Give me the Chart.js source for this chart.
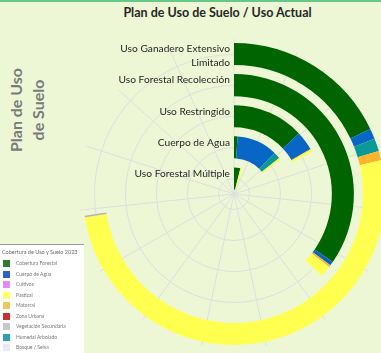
<!DOCTYPE html>
<html><head><meta charset="utf-8">
<script src="https://cdn.jsdelivr.net/npm/chart.js@4.4.1/dist/chart.umd.min.js"></script>
<style>
html,body{margin:0;padding:0;width:381px;height:353px;overflow:hidden;background:#edf7d6;font-family:Lato,"Open Sans",sans-serif;}
#topbar{position:absolute;left:0;top:0;width:381px;height:2px;background:#66c98a;}
#title{position:absolute;left:0;top:5px;width:435px;text-align:center;font-weight:bold;font-size:12.5px;color:#262626;white-space:nowrap;}
#ytitle{position:absolute;left:-28px;top:88px;width:110px;height:44px;line-height:22px;text-align:center;font-weight:bold;font-size:16px;color:#7a7a7a;transform:rotate(-90deg);white-space:nowrap;}
canvas{position:absolute;left:64px;top:24px;}
#legend{position:absolute;left:0;top:244px;width:84px;height:109px;background:#fff;border-top:1px solid #9a9a9a;filter:blur(0.5px);}
#legend .t{position:absolute;left:2px;top:4px;font-size:5.5px;color:#666;white-space:nowrap;}
#legend .it{position:absolute;left:3px;height:8px;font-size:5px;color:#777;white-space:nowrap;line-height:7px;}
#legend .sw{display:inline-block;width:7px;height:7px;vertical-align:top;margin-right:6px;}
</style></head>
<body>
<div id="topbar"></div>
<div id="title">Plan de Uso de Suelo / Uso Actual</div>
<div id="ytitle">Plan de Uso<br>de Suelo</div>
<canvas id="grid" width="340" height="340"></canvas>
<canvas id="rings" width="340" height="340"></canvas>
<div id="legend"></div>
<script>
// ---- data ----
const categories = [['Uso Ganadero Extensivo','Limitado'],'Uso Forestal Recolección','Uso Restringido','Cuerpo de Agua','Uso Forestal Múltiple'];
const seriesNames = ['Cobertura Forestal','Cuerpo de Agua','Humedal','Matorral','Pastizal','Vegetación Secundaria'];
const seriesColors = ['#006400','#0766c6','#0b9898','#ffb42e','#ffff4f','#b4b4b4'];
const forestal = [64.5,124.5,47,3.5,14];
const agua     = [4,2,12.5,41.2,0];
const humedal  = [5,0,0,6.8,0];
const matorral = [3.6,1,0.5,0,0];
const pastizal = [184,5.5,1.5,2,4];
const vegSec   = [0.6,0,0,0,0];
const SCALE_MAX = 360;
const spokeLabels = ['','','','','','','','','','','','','','',''];
const gridTicks = [0,0.5,1.5,2.5,3.5,4.5];
const legendTitle = 'Cobertura de Uso y Suelo 2023';
const legendNames = ['Cobertura Forestal','Cuerpo de Agua','Cultivos','Pastizal','Matorral','Zona Urbana','Vegetación Secundaria','Humedal Arbolado','Bosque / Selva'];
const legendColors = ['#2f7a32','#2f62c2','#e08cf2','#ffff66','#f2c65a','#c83232','#c8c8c8','#2ea0b0','#e8e8fa'];

// ---- legend (inset) ----
const lg = document.getElementById('legend');
lg.innerHTML = '<div class="t">'+legendTitle+'</div>' + legendNames.map((n,i)=>
  '<div class="it" style="top:'+(15+i*10.5)+'px"><span class="sw" style="background:'+legendColors[i]+'"></span>'+n+'</div>').join('');

// ---- grid chart ----
new Chart(document.getElementById('grid'), {
  type:'radar',
  data:{labels:spokeLabels, datasets:[]},
  options:{
    responsive:false, animation:false, events:[],
    layout:{padding:15},
    plugins:{legend:{display:false},tooltip:{enabled:false}},
    scales:{r:{min:0,max:5,
      afterBuildTicks:s=>{s.ticks = gridTicks.map(v=>({value:v}));},
      ticks:{display:false},
      pointLabels:{display:false},
      grid:{circular:true,color:'#dedede',lineWidth:1},
      angleLines:{color:'#dedede',lineWidth:1}
    }}
  }
});

// ---- rings ----
const series = [forestal,agua,humedal,matorral,pastizal,vegSec];
const datasets = [];
categories.forEach((cat,i)=>{
  const vals = series.map(s=>s[i]);
  const sum = vals.reduce((a,b)=>a+b,0);
  datasets.push({label:cat, ring:i, data:[...vals, SCALE_MAX-sum],
    backgroundColor:[...seriesColors,'rgba(0,0,0,0)'], weight:22});
  if (i < categories.length-1) datasets.push({label:'', gap:true, data:[1], backgroundColor:['rgba(0,0,0,0)'], weight:9.1});
});

const catLabels = {
  id:'catLabels',
  afterDatasetsDraw(chart){
    const ctx = chart.ctx;
    ctx.save();
    ctx.font = '10.2px Lato, "Open Sans", sans-serif';
    ctx.fillStyle = '#262626';
    ctx.textAlign = 'right';
    ctx.textBaseline = 'middle';
    chart.data.datasets.forEach((ds,di)=>{
      if (ds.gap) return;
      const arc = chart.getDatasetMeta(di).data[0];
      const mid = (arc.innerRadius + arc.outerRadius)/2;
      const lines = Array.isArray(ds.label) ? ds.label : [ds.label];
      lines.forEach((ln,j)=> ctx.fillText(ln, arc.x - 4, arc.y - mid - 5 + j*14));
    });
    ctx.restore();
  }
};

new Chart(document.getElementById('rings'), {
  type:'doughnut',
  data:{labels:[...seriesNames,''], datasets},
  options:{
    responsive:false, animation:false, events:[],
    radius:151, cutout:'3%', rotation:0, circumference:360,
    borderWidth:0, hoverBorderWidth:0, offset:0, hoverOffset:0, spacing:0,
    plugins:{legend:{display:false},tooltip:{enabled:false}}
  },
  plugins:[catLabels]
});
</script>
</body></html>
